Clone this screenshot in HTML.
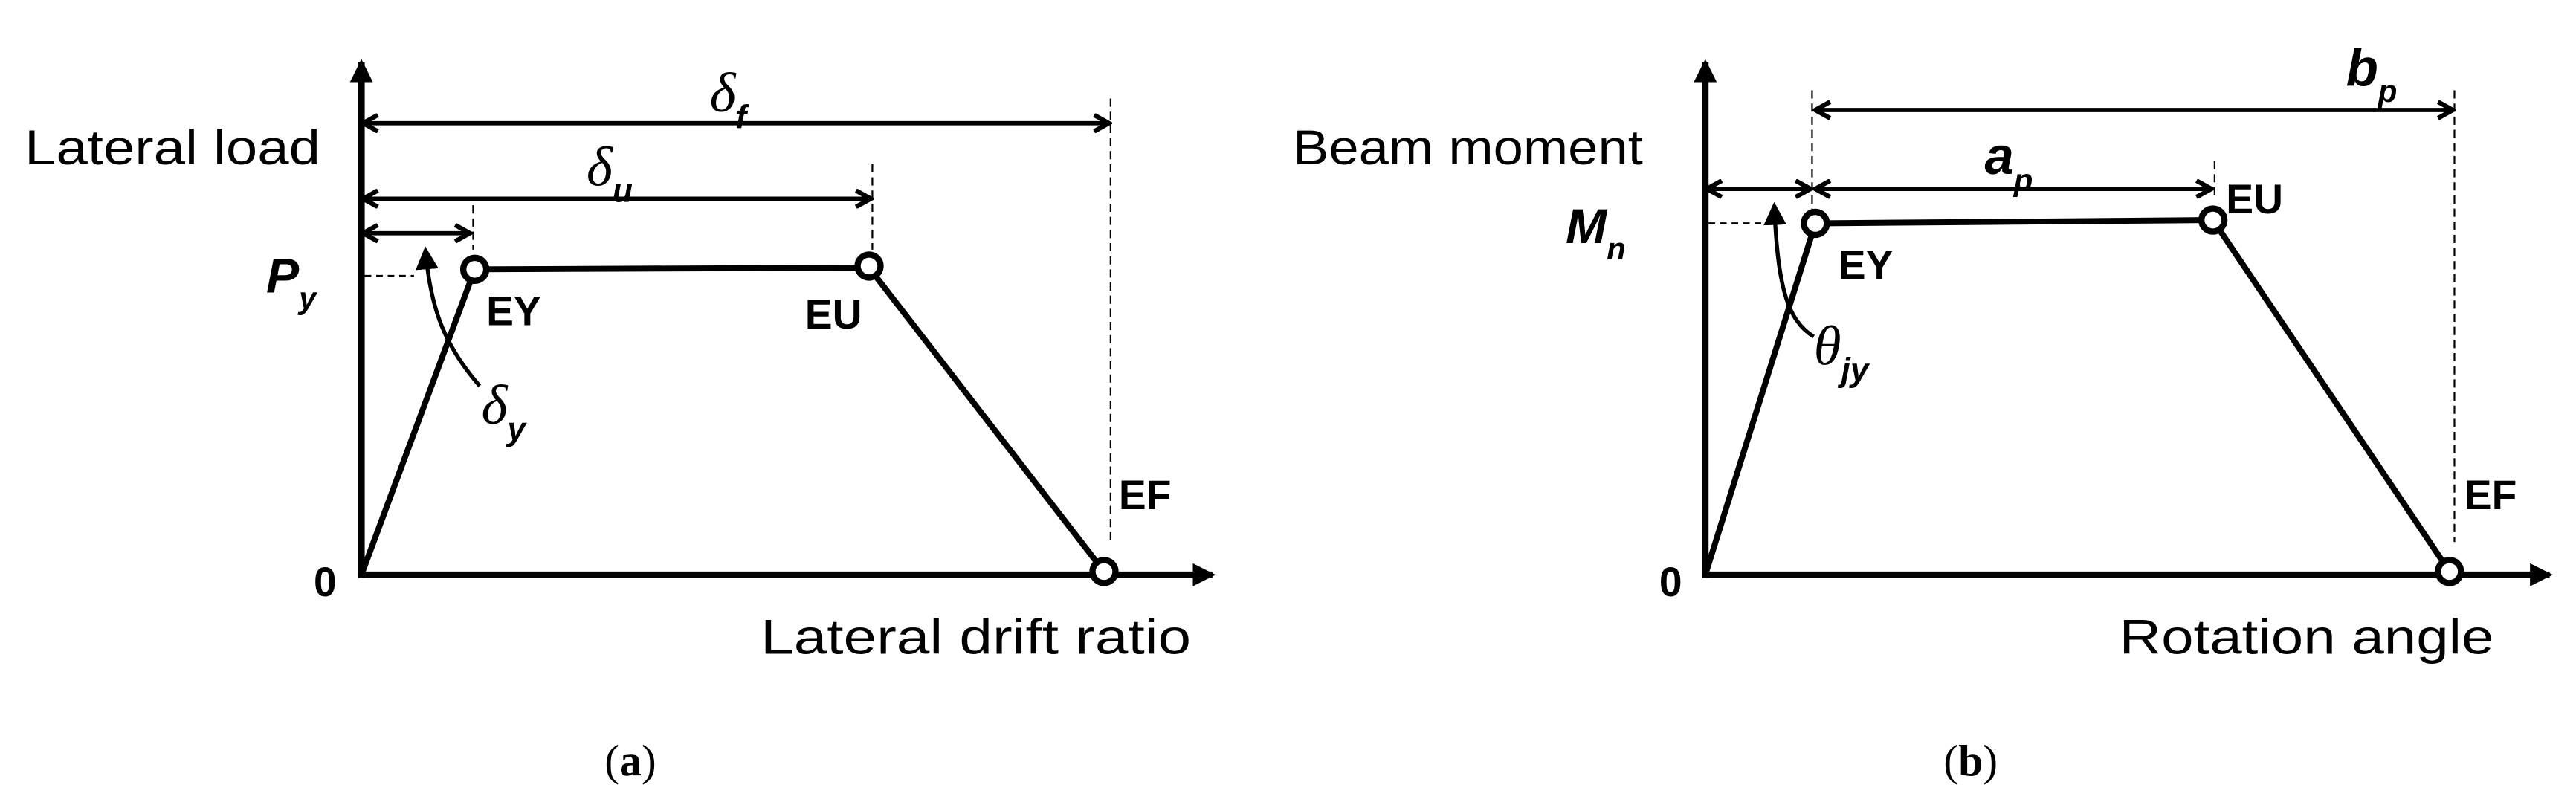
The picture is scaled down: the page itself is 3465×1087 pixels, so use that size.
<!DOCTYPE html>
<html><head><meta charset="utf-8"><style>html,body{margin:0;padding:0;background:#fff}svg{display:block}</style></head>
<body>
<svg width="3465" height="1087" viewBox="0 0 1568 492" preserveAspectRatio="none" xmlns="http://www.w3.org/2000/svg">
<defs>
<marker id="ah" markerWidth="12" markerHeight="12" refX="9" refY="6" orient="auto-start-reverse" markerUnits="userSpaceOnUse"><path d="M1,1 L10,6 L1,11" fill="none" stroke="#000" stroke-width="2.8"/></marker>
<marker id="fa" markerWidth="14" markerHeight="14" refX="12" refY="7" orient="auto" markerUnits="userSpaceOnUse"><path d="M0,0 L14,7 L0,14 Z" fill="#000"/></marker>
</defs>
<g font-family="'Liberation Sans Narrow', 'Liberation Sans', sans-serif" fill="#000">
<!-- (a) -->
<g stroke="#000" fill="none">
<line x1="220" y1="352" x2="220" y2="38" stroke-width="4" marker-end="url(#fa)"/>
<line x1="218" y1="350" x2="738" y2="350" stroke-width="4" marker-end="url(#fa)"/>
<polyline points="220,350 289,164 529,163 672,348" stroke-width="3.6"/>
<line x1="222" y1="75" x2="674" y2="75" stroke-width="2.6" marker-start="url(#ah)" marker-end="url(#ah)"/>
<line x1="222" y1="121" x2="529" y2="121" stroke-width="2.6" marker-start="url(#ah)" marker-end="url(#ah)"/>
<line x1="222" y1="142" x2="285" y2="142" stroke-width="2.6" marker-start="url(#ah)" marker-end="url(#ah)"/>
<g stroke-width="1" stroke-dasharray="5,3">
<line x1="676" y1="60" x2="676" y2="330"/>
<line x1="531" y1="100" x2="531" y2="152"/>
<line x1="288" y1="125" x2="288" y2="152"/>
</g>
<line x1="222" y1="168" x2="252" y2="168" stroke-width="1.2" stroke-dasharray="4,3"/>
<path d="M292,235 C272,212 262,190 259,152" stroke-width="2.4" marker-end="url(#fa)"/>
<circle cx="289" cy="164" r="7" fill="#fff" stroke-width="3.8"/>
<circle cx="529" cy="162" r="7" fill="#fff" stroke-width="3.8"/>
<circle cx="672" cy="348" r="7" fill="#fff" stroke-width="3.8"/>
</g>
<text x="15" y="100" font-size="30" textLength="180" lengthAdjust="spacingAndGlyphs">Lateral load</text>
<text x="463" y="398" font-size="30" textLength="262" lengthAdjust="spacingAndGlyphs">Lateral drift ratio</text>
<text x="191" y="363" font-size="25" font-weight="bold">0</text>
<text x="296" y="198" font-size="25" font-weight="bold">EY</text>
<text x="490" y="200" font-size="25" font-weight="bold">EU</text>
<text x="681" y="310" font-size="25" font-weight="bold">EF</text>
<text x="162" y="178" font-size="30" font-weight="bold" font-style="italic">P<tspan font-size="19" dy="10">y</tspan></text>
<text x="293" y="258" font-size="34" font-family="Liberation Serif, serif" font-style="italic">δ<tspan font-size="20" font-family="'Liberation Sans Narrow', sans-serif" font-weight="bold" dy="10">y</tspan></text>
<text x="357" y="113" font-size="34" font-family="Liberation Serif, serif" font-style="italic">δ<tspan font-size="20" font-family="'Liberation Sans Narrow', sans-serif" font-weight="bold" dy="10">u</tspan></text>
<text x="432" y="68" font-size="34" font-family="Liberation Serif, serif" font-style="italic">δ<tspan font-size="20" font-family="'Liberation Sans Narrow', sans-serif" font-weight="bold" dy="10">f</tspan></text>
<text x="368" y="472" font-size="27" font-family="Liberation Serif, serif">(<tspan font-weight="bold">a</tspan>)</text>
<!-- (b) -->
<g stroke="#000" fill="none">
<line x1="1038" y1="352" x2="1038" y2="38" stroke-width="4" marker-end="url(#fa)"/>
<line x1="1036" y1="350" x2="1552" y2="350" stroke-width="4" marker-end="url(#fa)"/>
<polyline points="1038,350 1105,136 1347,134 1491,348" stroke-width="3.6"/>
<line x1="1106" y1="67" x2="1492" y2="67" stroke-width="2.6" marker-start="url(#ah)" marker-end="url(#ah)"/>
<line x1="1106" y1="115" x2="1345" y2="115" stroke-width="2.6" marker-start="url(#ah)" marker-end="url(#ah)"/>
<line x1="1040" y1="115" x2="1101" y2="115" stroke-width="2.6" marker-start="url(#ah)" marker-end="url(#ah)"/>
<g stroke-width="1" stroke-dasharray="5,3">
<line x1="1494" y1="55" x2="1494" y2="330"/>
<line x1="1103" y1="55" x2="1103" y2="128"/>
<line x1="1348" y1="98" x2="1348" y2="122"/>
</g>
<line x1="1040" y1="136" x2="1076" y2="136" stroke-width="1.2" stroke-dasharray="4,3"/>
<path d="M1104,205 C1088,195 1082,175 1080,125" stroke-width="2.4" marker-end="url(#fa)"/>
<circle cx="1105" cy="136" r="7" fill="#fff" stroke-width="3.8"/>
<circle cx="1347" cy="134" r="7" fill="#fff" stroke-width="3.8"/>
<circle cx="1491" cy="348" r="7" fill="#fff" stroke-width="3.8"/>
</g>
<text x="787" y="100" font-size="30" textLength="213" lengthAdjust="spacingAndGlyphs">Beam moment</text>
<text x="1290" y="398" font-size="30" textLength="228" lengthAdjust="spacingAndGlyphs">Rotation angle</text>
<text x="1010" y="363" font-size="25" font-weight="bold">0</text>
<text x="1119" y="170" font-size="25" font-weight="bold">EY</text>
<text x="1355" y="130" font-size="25" font-weight="bold">EU</text>
<text x="1500" y="310" font-size="25" font-weight="bold">EF</text>
<text x="953" y="148" font-size="30" font-weight="bold" font-style="italic">M<tspan font-size="19" dy="10">n</tspan></text>
<text x="1104" y="222" font-size="34" font-family="Liberation Serif, serif" font-style="italic">θ<tspan font-size="20" font-family="'Liberation Sans Narrow', sans-serif" font-weight="bold" dy="10">jy</tspan></text>
<text x="1208" y="106" font-size="32" font-weight="bold" font-style="italic">a<tspan font-size="19" dy="10">p</tspan></text>
<text x="1428" y="52" font-size="32" font-weight="bold" font-style="italic">b<tspan font-size="19" dy="10">p</tspan></text>
<text x="1183" y="472" font-size="27" font-family="Liberation Serif, serif">(<tspan font-weight="bold">b</tspan>)</text>
</g>
</svg>
</body></html>
